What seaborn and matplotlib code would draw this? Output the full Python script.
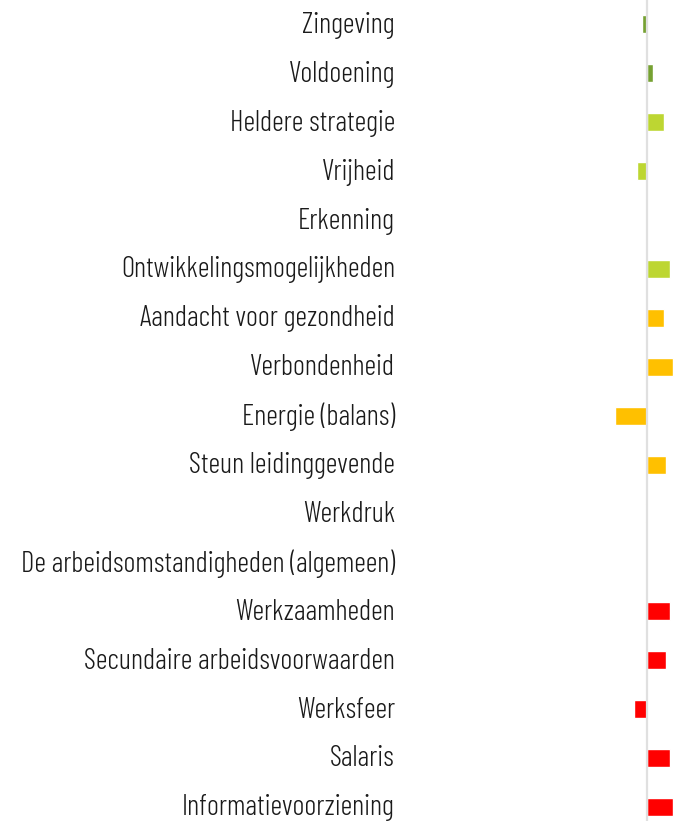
import pandas as pd
import numpy as np
import matplotlib
matplotlib.use('Agg')
import matplotlib.pyplot as plt
import matplotlib.transforms as mtransforms
import seaborn as sns
from matplotlib import font_manager as fm

# categories, top to bottom
categories = [
    'Zingeving', 'Voldoening', 'Heldere strategie', 'Vrijheid', 'Erkenning',
    'Ontwikkelingsmogelijkheden', 'Aandacht voor gezondheid', 'Verbondenheid',
    'Energie (balans)', 'Steun leidinggevende', 'Werkdruk',
    'De arbeidsomstandigheden (algemeen)', 'Werkzaamheden',
    'Secundaire arbeidsvoorwaarden', 'Werksfeer', 'Salaris',
    'Informatievoorziening',
]
# difference per item
values = [-0.5, 0.6, 1.7, -1.0, 0.0, 2.3, 1.7, 2.6, -3.2, 1.9, -0.2, 0.0,
          2.3, 1.9, -1.3, 2.3, 2.6]
groups = ['A', 'A', 'B', 'B', 'B', 'B', 'C', 'C', 'C', 'C', 'C',
          'D', 'D', 'D', 'D', 'D', 'D']
group_colors = {'A': '#76a132', 'B': '#bdd632', 'C': '#ffc000', 'D': '#ff0000'}

df = pd.DataFrame({'item': categories, 'value': values, 'group': groups})

sns.set_style('white')


def find_font():
    # look for a condensed light face
    files = [f.fname for f in fm.fontManager.ttflist]
    for want in [('opensans', 'condensed', 'light'), ('barlowcondensed-light',),
                 ('firasanscondensed-light',)]:
        for fn in files:
            base = fn.split('/')[-1].lower().replace('_', '').replace(' ', '')
            if all(w in base for w in want) and 'italic' not in base:
                return fm.FontProperties(fname=fn)
    return fm.FontProperties(family='DejaVu Sans', stretch='condensed')


W, H = 674, 821
fig = plt.figure(figsize=(W / 100, H / 100), dpi=100)

# size the labels so the longest one is about 375 px wide, like the reference
label_font = find_font()
label_font.set_size(20)
probe = fig.text(0, 0, max(categories, key=len), fontproperties=label_font)
wpx = probe.get_window_extent(renderer=fig.canvas.get_renderer()).width
probe.remove()
label_font.set_size(min(22, 20 * 375 / wpx))

ax_left = 404
row_px = 48.9
ax_h = row_px * len(categories)
ax = fig.add_axes([ax_left / W, (H - ax_h) / H, 1 - ax_left / W, ax_h / H])

sns.barplot(data=df, y='item', x='value', hue='group', palette=group_colors,
            dodge=False, width=0.37, saturation=1, legend=False, ax=ax, orient='h')

zero_px = 647
px_per_unit = 10
ax.set_xlim(-(zero_px - ax_left) / px_per_unit, (W - zero_px) / px_per_unit)
ax.set_ylim(len(categories) - 0.5, -0.5)
ax.axvline(0, color='#e0e0e0', lw=1.6, zorder=5)

ax.set_xlabel('')
ax.set_ylabel('')
ax.set_xticks([])
ax.tick_params(axis='y', length=0, pad=6.5, labelcolor='#1a1a1a')
shift = mtransforms.ScaledTranslation(0, 2 / 100, fig.dpi_scale_trans)
for lab in ax.get_yticklabels():
    lab.set_fontproperties(label_font)
    lab.set_transform(lab.get_transform() + shift)
for s in ax.spines.values():
    s.set_visible(False)

fig.savefig('out.png', dpi=100)
